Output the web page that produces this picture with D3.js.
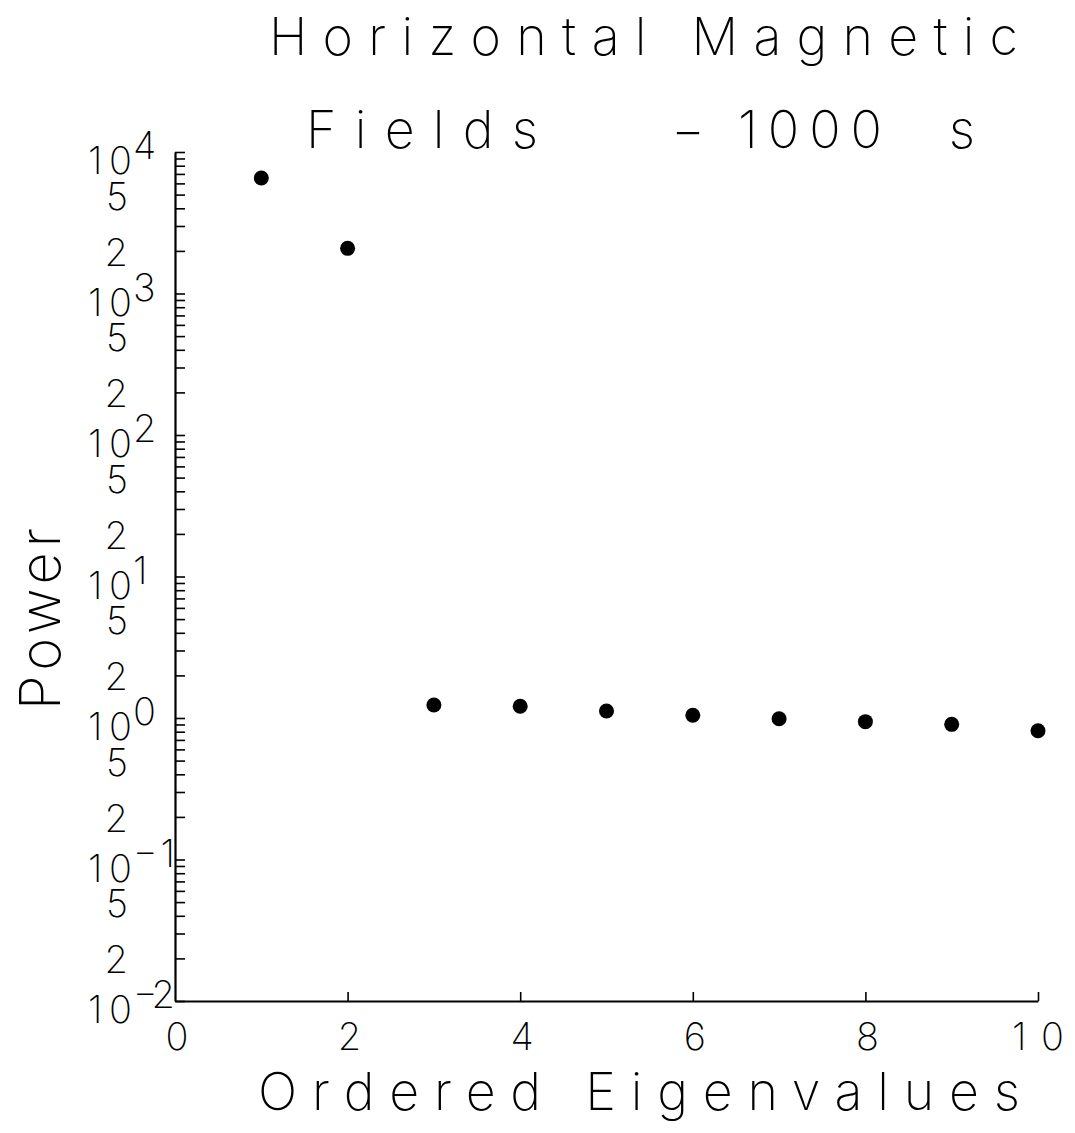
<!DOCTYPE html>
<html>
<head>
<meta charset="utf-8">
<script src="https://cdn.jsdelivr.net/npm/d3@7"></script>
<style>
  body { margin: 0; background: #fff; }
  svg text { font-family: Inter, "DejaVu Sans", sans-serif; font-weight: 200; fill: #000; }
  svg text.tick-label { font-weight: 250; }
</style>
</head>
<body>
<svg id="chart" width="1075" height="1133"></svg>
<script>
// Eigenvalue spectrum of the horizontal magnetic field (1000 s band)
const eigenIndex = [1, 2, 3, 4, 5, 6, 7, 8, 9, 10];
const powerValues = [6550, 2085, 1.236, 1.21, 1.12, 1.045, 0.989, 0.942, 0.902, 0.813];

const xTickValues = [0, 2, 4, 6, 8, 10];
const decadeExponents = [4, 3, 2, 1, 0, -1, -2];
const labelledMultipliers = [5, 2];

const titleLine1 = "Horizontal Magnetic";
const titleLine2Parts = ["Fields", "\u2212", "1000", "s"];
const xAxisTitle = "Ordered Eigenvalues";
const yAxisTitle = "Power";

const svg = d3.select("#chart");

const x = d3.scaleLinear().domain([0, 10]).range([175, 1038]);
const y = d3.scaleLog().domain([0.01, 10000]).range([1001, 152]);

// every minor/major tick position on the log axis
const yTicks = [];
for (let e = -2; e < 4; e++) {
  for (let m = 1; m <= 9; m++) yTicks.push(m * Math.pow(10, e));
}
yTicks.push(1e4);

// y axis: ticks point into the plot
const yAxis = d3.axisRight(y).tickValues(yTicks).tickSize(10).tickSizeOuter(0).tickFormat("");
const gy = svg.append("g").attr("transform", "translate(175,0)").call(yAxis);
gy.select(".domain").attr("stroke", "#000").attr("stroke-width", 2.2);
gy.selectAll(".tick line").attr("stroke", "#000").attr("stroke-width", 1.6);

// x axis: ticks point upward
const xAxis = d3.axisTop(x).tickValues(xTickValues.filter(v => v > 0)).tickSize(9).tickSizeOuter(0).tickFormat("");
const gx = svg.append("g").attr("transform", "translate(0,1001)").call(xAxis);
gx.select(".domain").attr("stroke", "#000").attr("stroke-width", 2.2);
gx.selectAll(".tick line").attr("stroke", "#000").attr("stroke-width", 1.6);

const labelSize = 38;

// decade labels: "10" with the exponent raised beside it
const decadeG = svg.append("g");
decadeExponents.forEach(e => {
  const ty = y(Math.pow(10, e));
  decadeG.append("text")
    .attr("class", "tick-label")
    .attr("x", 88).attr("y", ty + 22)
    .attr("textLength", 44).attr("lengthAdjust", "spacing")
    .style("font-size", labelSize + "px")
    .text("10");
  const exp = decadeG.append("text")
    .attr("class", "tick-label")
    .attr("x", 133).attr("y", ty + 7)
    .style("font-size", labelSize + "px")
    .text(e < 0 ? "\u2212" + Math.abs(e) : String(e));
  if (e < 0) exp.attr("textLength", 42).attr("lengthAdjust", "spacing");
});

// intermediate labels 5 and 2 within each decade
const midG = svg.append("g");
decadeExponents.slice(0, -1).forEach(e => {
  labelledMultipliers.forEach(m => {
    const v = m * Math.pow(10, e - 1);
    midG.append("text")
      .attr("class", "tick-label")
      .attr("x", 128).attr("y", y(v) + 15)
      .attr("text-anchor", "end")
      .style("font-size", labelSize + "px")
      .text(String(m));
  });
});

// x tick labels
svg.append("g").selectAll("text")
  .data(xTickValues)
  .join("text")
  .attr("class", "tick-label")
  .attr("x", d => d >= 10 ? x(d) - 26 : x(d) + 2)
  .attr("y", 1050)
  .attr("text-anchor", d => d >= 10 ? "start" : "middle")
  .attr("textLength", d => d >= 10 ? 52 : null)
  .attr("lengthAdjust", "spacing")
  .style("font-size", labelSize + "px")
  .text(d => String(d));

// data points
svg.append("g").selectAll("circle")
  .data(eigenIndex.map((k, i) => ({ k, p: powerValues[i] })))
  .join("circle")
  .attr("cx", d => x(d.k))
  .attr("cy", d => y(d.p))
  .attr("r", 7.5)
  .attr("fill", "#000");

// titles
const titleSize = 52;
svg.append("text")
  .attr("x", 269).attr("y", 55)
  .attr("textLength", 749).attr("lengthAdjust", "spacing")
  .style("font-size", titleSize + "px")
  .text(titleLine1);

const line2X = [306, 688, 738, 962];
const line2Len = [232, null, 144, null];
titleLine2Parts.forEach((t, i) => {
  const el = svg.append("text")
    .attr("x", line2X[i]).attr("y", 148)
    .attr("text-anchor", line2Len[i] ? "start" : "middle")
    .style("font-size", titleSize + "px")
    .text(t);
  if (line2Len[i]) el.attr("textLength", line2Len[i]).attr("lengthAdjust", "spacing");
});

svg.append("text")
  .attr("x", 258).attr("y", 1110)
  .attr("textLength", 762).attr("lengthAdjust", "spacing")
  .style("font-size", titleSize + "px")
  .text(xAxisTitle);

svg.append("text")
  .attr("transform", "translate(60,710) rotate(-90)")
  .attr("textLength", 182).attr("lengthAdjust", "spacing")
  .style("font-size", "56px")
  .text(yAxisTitle);
</script>
</body>
</html>
